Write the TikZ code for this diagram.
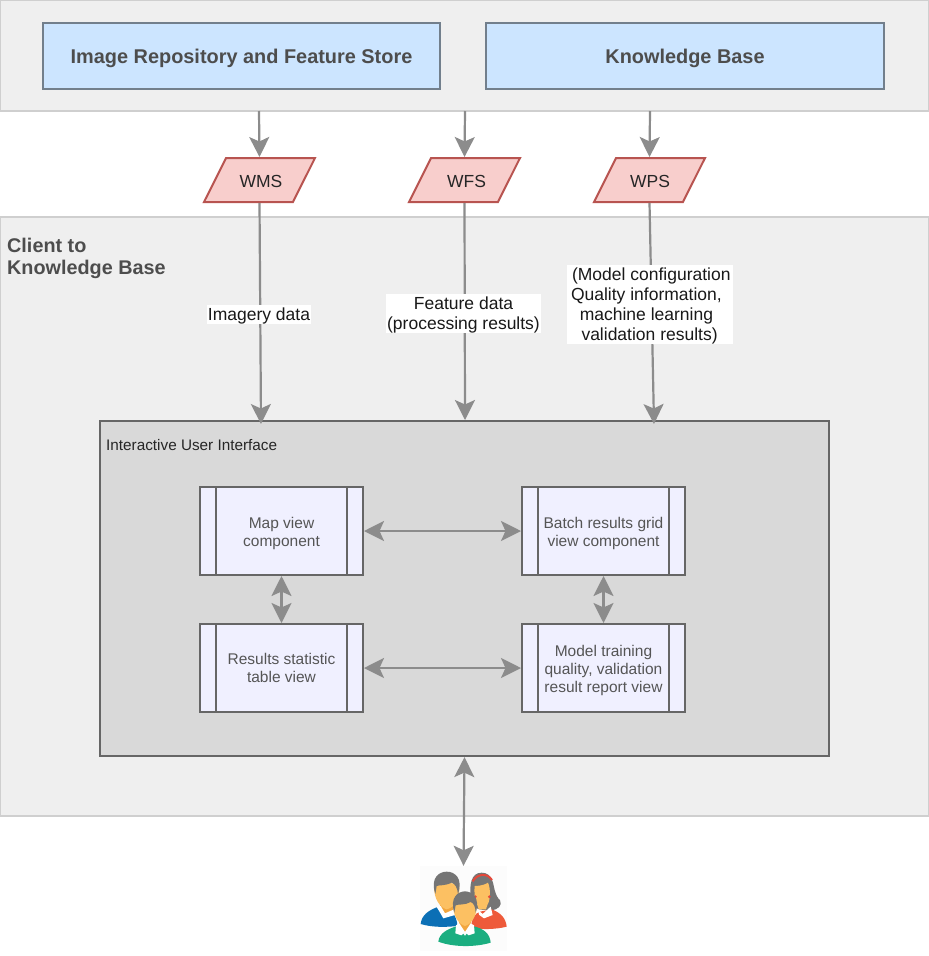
\documentclass[tikz,border=0pt]{standalone}
\usepackage{fontspec}
\setmainfont{Liberation Sans}
\usetikzlibrary{arrows.meta,shapes.geometric,calc}
\newcommand{\bltext}[2]{\raisebox{-#1}[0pt][0pt]{#2}}
\newcommand{\svctext}[1]{\raisebox{-7.5pt}[22pt][22pt]{#1}}
\definecolor{panelfill}{HTML}{EFEFEF}
\definecolor{panelline}{HTML}{CFCFCF}
\definecolor{bluefill}{HTML}{CCE5FF}
\definecolor{blueline}{HTML}{727F8C}
\definecolor{redfill}{HTML}{F8CECC}
\definecolor{redline}{HTML}{B85450}
\definecolor{uifill}{HTML}{D9D9D9}
\definecolor{uiline}{HTML}{666666}
\definecolor{procfill}{HTML}{F0F0FF}
\definecolor{arrowgray}{HTML}{8C8C8C}
\definecolor{titletext}{HTML}{4D4D4D}
\definecolor{proctext}{HTML}{555555}
\definecolor{skin}{HTML}{FCC062}
\definecolor{skinshade}{HTML}{F2A63F}
\definecolor{hair}{HTML}{757575}
\definecolor{shirtblue}{HTML}{0B6FB5}
\definecolor{shirtred}{HTML}{EE5A3A}
\definecolor{shirtgreen}{HTML}{1BAE80}
\definecolor{band}{HTML}{E5483A}
\tikzset{
  panel/.style={draw=panelline,fill=panelfill,line width=2pt,minimum width=929pt,inner sep=0pt},
  bluebox/.style={draw=blueline,fill=bluefill,line width=2pt,minimum width=397pt,minimum height=66pt,inner sep=0pt,
    text=titletext,font=\fontsize{19.9}{24}\selectfont\bfseries},
  service/.style={trapezium,trapezium left angle=63.4,trapezium right angle=116.6,trapezium stretches body=true,
    draw=redline,fill=redfill,line width=2pt,minimum width=111pt,minimum height=44pt,inner sep=0pt,
    text=black!85,font=\fontsize{17.5}{21}\selectfont},
  uibox/.style={draw=uiline,fill=uifill,line width=2.2pt,minimum width=729pt,minimum height=335pt,inner sep=0pt},
  procbox/.style={draw=uiline,fill=procfill,line width=2pt,minimum width=163pt,minimum height=88pt,inner sep=0pt,
    align=center,text=proctext,font=\fontsize{15.5}{18}\selectfont,
    path picture={
      \draw[uiline,line width=2pt] ($(path picture bounding box.north west)+(16pt,0)$) -- ($(path picture bounding box.south west)+(16pt,0)$);
      \draw[uiline,line width=2pt] ($(path picture bounding box.north east)+(-16pt,0)$) -- ($(path picture bounding box.south east)+(-16pt,0)$);
    }},
  conn/.style={draw=arrowgray,line width=2.2pt,-{Stealth[length=20pt,width=20pt,inset=4.5pt]}},
  biconn/.style={draw=arrowgray,line width=2.2pt,{Stealth[length=20pt,width=20pt,inset=4.5pt]}-{Stealth[length=20pt,width=20pt,inset=4.5pt]}},
  edgelabel/.style={fill=white,inner sep=0pt,text=black!90,font=\fontsize{17.5}{20}\selectfont},
}
\begin{document}
\begin{tikzpicture}[x=1pt,y=-1pt]
\useasboundingbox (0,0) rectangle (929,956);
\fill[white] (0,0) rectangle (929,956);
% panels
\node[panel,minimum height=111pt] (top) at (464.5,55.5) {};
\node[panel,minimum height=599pt] (client) at (464.5,516.5) {};
\node[anchor=north west,inner sep=0pt,align=left,text=titletext,font=\fontsize{19.8}{22}\selectfont\bfseries] (clienttitle) at (7,237.5) {Client to\\Knowledge Base};
% repositories
\node[bluebox] (repo) at (241.5,56) {\bltext{7.3pt}{Image Repository and Feature Store}};
\node[bluebox,minimum width=398pt] (kb) at (685,56) {\bltext{7.3pt}{Knowledge Base}};
% services
\node[service] (wms) at (259.5,180) {\hspace*{3pt}\svctext{WMS}};
\node[service] (wfs) at (464.5,180) {\hspace*{4pt}\svctext{WFS}};
\node[service] (wps) at (649.5,180) {\hspace*{1pt}\svctext{WPS}};
% UI
\node[uibox] (ui) at (464.5,588.5) {};
\node[anchor=west,inner sep=0pt,text=black!85,font=\fontsize{15.3}{17}\selectfont] (uititle) at (106,445) {Interactive User Interface};
\node[procbox] (map) at (281.5,531) {\rule{0pt}{15.8pt}Map view\\component};
\node[procbox] (batch) at (603.5,531) {\rule{0pt}{15.8pt}Batch results grid\\view component};
\node[procbox] (stat) at (281.5,668) {\rule{0pt}{12pt}Results statistic\\table view};
\node[procbox] (model) at (603.5,668) {\rule{0pt}{15.2pt}Model training\\quality, validation\\result report view};
% anchor coordinates
\coordinate (topA) at (259,111);
\coordinate (topB) at (465,111);
\coordinate (topC) at (650,111);
\coordinate (uiA) at (261,424);
\coordinate (uiB) at (465,420);
\coordinate (uiC) at (654,424);
% people icon
\node[fill=black!1,minimum width=87pt,minimum height=85pt,inner sep=0pt] (people) at (463.5,908.5) {};
\begin{scope}[shift={(400,850)},x=.3333pt,y=-.3333pt]
  % woman
  \fill[hair] (245,68) .. controls (212,68) and (208,105) .. (212,150) .. controls (214,175) and (240,182) .. (270,180) .. controls (295,182) and (308,165) .. (300,150) .. controls (284,138) and (282,105) .. (278,95) .. controls (272,75) and (260,68) .. (245,68) -- cycle;
  \fill[skin] (224,108) .. controls (245,108) and (258,102) .. (264,98) .. controls (272,115) and (272,150) .. (262,165) -- (258,178) -- (236,178) -- (232,165) .. controls (224,150) and (222,125) .. (224,108) -- cycle;
  \draw[band,line width=2pt] (218,94) .. controls (232,70) and (262,68) .. (276,90);
  \fill[band] (268,140) circle (4.5);
  \fill[band] (226,140) circle (4.5);
  \fill[shirtred] (213,232) .. controls (215,205) and (225,190) .. (240,185) -- (275,178) .. controls (302,188) and (318,205) .. (320,230) .. controls (290,238) and (240,240) .. (213,232) -- cycle;
  \fill[white] (232,178) -- (248,192) -- (272,170) -- (278,195) -- (252,205) -- (238,195) -- cycle;
  % left man
  \fill[skinshade] (120,155) rectangle (160,195);
  \fill[skin] (102,110) .. controls (105,95) and (175,95) .. (178,110) .. controls (180,145) and (165,172) .. (140,178) .. controls (118,172) and (102,145) .. (102,110) -- cycle;
  \fill[hair] (106,132) .. controls (90,82) and (118,65) .. (140,65) .. controls (165,65) and (190,85) .. (174,132) .. controls (172,112) and (165,102) .. (155,98) .. controls (135,108) and (115,105) .. (110,108) .. controls (108,115) and (108,125) .. (106,132) -- cycle;
  \fill[shirtblue] (62,222) .. controls (65,195) and (85,182) .. (110,172) -- (130,198) -- (160,190) .. controls (166,200) and (172,212) .. (172,228) .. controls (135,232) and (95,232) .. (62,222) -- cycle;
  \fill[white] (110,170) -- (122,168) -- (135,190) -- (158,180) -- (165,195) -- (130,205) -- cycle;
  % front man
  \fill[skinshade] (176,205) rectangle (214,245);
  \fill[skin] (160,165) .. controls (165,150) and (225,150) .. (230,165) .. controls (232,195) and (215,222) .. (195,228) .. controls (175,222) and (158,195) .. (160,165) -- cycle;
  \fill[hair] (163,188) .. controls (148,142) and (175,124) .. (195,124) .. controls (215,124) and (242,142) .. (227,188) .. controls (226,170) and (222,160) .. (212,156) .. controls (195,166) and (175,162) .. (167,166) .. controls (165,172) and (165,180) .. (163,188) -- cycle;
  \fill[shirtgreen] (115,275) .. controls (118,250) and (140,238) .. (172,228) -- (195,258) -- (218,228) .. controls (250,235) and (270,250) .. (272,278) .. controls (225,292) and (160,292) .. (115,275) -- cycle;
  \fill[white] (168,226) -- (178,220) -- (195,246) -- (212,220) -- (222,226) -- (224,250) -- (206,256) -- (195,246) -- (184,256) -- (166,250) -- cycle;
\end{scope}
% connectors
\draw[conn] (topA) -- (wms.north);
\draw[conn] (topB) -- (wfs.north);
\draw[conn] (topC) -- (wps.north);
\draw[conn] (wms.south) -- (uiA);
\draw[conn] (wfs.south) -- (uiB);
\draw[conn] (wps.south) -- (uiC);
\draw[biconn] (map.east) -- (batch.west);
\draw[biconn] (stat.east) -- (model.west);
\draw[biconn] (map.south) -- (stat.north);
\draw[biconn] (batch.south) -- (model.north);
\draw[biconn] (ui.south) -- (people.north);
% labels
\node[edgelabel,minimum width=103.4pt,minimum height=19pt] (lblA) at (259,314.5) {\bltext{5.5pt}{Imagery data}};
\node[edgelabel,minimum width=155pt,minimum height=38.7pt] (lblB) at (463.5,313.4) {\bltext{-4.4pt}{\begin{tabular}[t]{@{}c@{}}Feature data\\(processing results)\end{tabular}}};
\node[edgelabel,minimum width=166pt,minimum height=79pt] (lblC) at (650,304.5) {\makebox[166pt][l]{\hspace*{4pt}\bltext{-24.5pt}{\begin{tabular}[t]{@{}l@{}}\hspace*{1pt}(Model configuration\\Quality information,\\\hspace*{8.8pt}machine learning\\\hspace*{10.5pt}validation results)\end{tabular}}}};
\end{tikzpicture}
\end{document}
